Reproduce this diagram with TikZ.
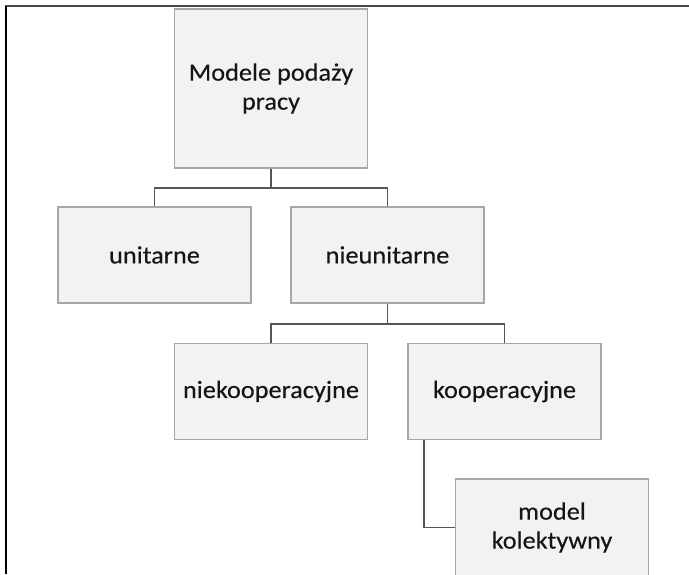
\documentclass[tikz,border=0pt]{standalone}
\usepackage{fontspec}
\setmainfont{Carlito}[FakeStretch=1.06,FakeBold=0.25]
\usetikzlibrary{calc}
\definecolor{boxfill}{HTML}{F2F2F2}
\definecolor{boxline}{HTML}{A6A6A6}
\definecolor{conn}{HTML}{555555}
\definecolor{txt}{HTML}{151515}
\begin{document}
\begin{tikzpicture}[x=1pt,y=-1pt,
  boxnode/.style={draw=boxline,line width=1.3pt,fill=boxfill,minimum width=193pt,minimum height=96pt,
    inner sep=2pt,align=center,text=txt,font=\fontsize{24.8}{29}\selectfont},
  connector/.style={draw=conn,line width=1.8pt}]
\useasboundingbox (0,0) rectangle (689,574);
\clip (0,0) rectangle (689,574);
\fill[white] (0,0) rectangle (689,574);
% frame
\draw[line width=2.2pt,draw=black!72] (5,6) -- (689,6);
\draw[line width=1.6pt,draw=black] (6,6) -- (6,574);
% nodes
\node[boxnode,minimum height=159pt] (root) at (271,88.5) {Modele podaży\\pracy};
\node[boxnode] (uni) at (154.5,255) {unitarne};
\node[boxnode] (nieu) at (387.5,255) {nieunitarne};
\node[boxnode] (niek) at (271,391.5) {niekooperacyjne};
\node[boxnode] (koop) at (504.5,391.5) {kooperacyjne};
\node[boxnode,minimum height=97pt] (model) at (552,527.5) {model\\kolektywny};
% connectors
\draw[connector] (root.south) -- ++(0,19) -| (uni.north);
\draw[connector] (root.south) -- ++(0,19) -| (nieu.north);
\draw[connector] (nieu.south) -- ++(0,20) -| (niek.north);
\draw[connector] (nieu.south) -- ++(0,20) -| (koop.north);
\draw[connector] ($(koop.south west)+(17,0)$) |- (model.west);
\end{tikzpicture}
\end{document}
